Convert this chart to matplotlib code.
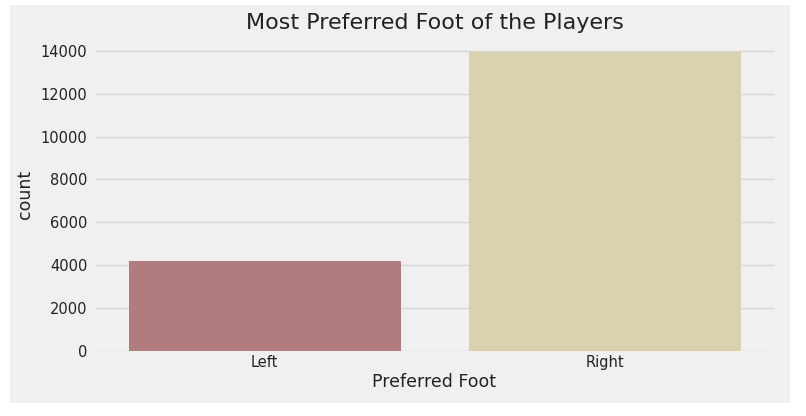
import matplotlib
matplotlib.use("Agg")
import matplotlib.pyplot as plt
from matplotlib.patches import Rectangle

categories = ["Left", "Right"]
counts = [4211, 13948]
colors = ["#b07c7d", "#dad1ae"]
yticks = [0, 2000, 4000, 6000, 8000, 10000, 12000, 14000]

plt.style.use("fivethirtyeight")
fig = plt.figure(figsize=(8.06, 4.16), dpi=100, facecolor="white")
fig.patches.append(Rectangle((10/806, 13/416), 780/806, 398/416, transform=fig.transFigure,
                             facecolor="#f0f0f0", edgecolor="none", zorder=-10))
ax = fig.add_axes([94.5/806, 65/416, 680/806, 314/416])
ax.set_facecolor("#f0f0f0")
ax.bar(categories, counts, width=0.8, color=colors, edgecolor="none", zorder=2)
ax.set_xlim(-0.5, 1.5)
ax.set_ylim(0, max(counts) * 1.05)
ax.set_yticks(yticks)
ax.grid(axis="y", color="#d6d6d6", linewidth=1.0, zorder=0)
ax.grid(axis="x", visible=False)
for s in ax.spines.values():
    s.set_visible(False)
ax.tick_params(axis="y", labelsize=10.5, colors="#222222", length=0, pad=5)
ax.tick_params(axis="x", labelsize=10.5, colors="#222222", length=0, pad=3)
ax.set_xlabel("Preferred Foot", fontsize=12.5, color="#222222", labelpad=2)
ax.set_ylabel("count", fontsize=12.5, color="#222222", labelpad=5)
ax.set_title("Most Preferred Foot of the Players", fontsize=16, color="#222222", pad=6)
fig.savefig("out.png", dpi=100, facecolor="white")
